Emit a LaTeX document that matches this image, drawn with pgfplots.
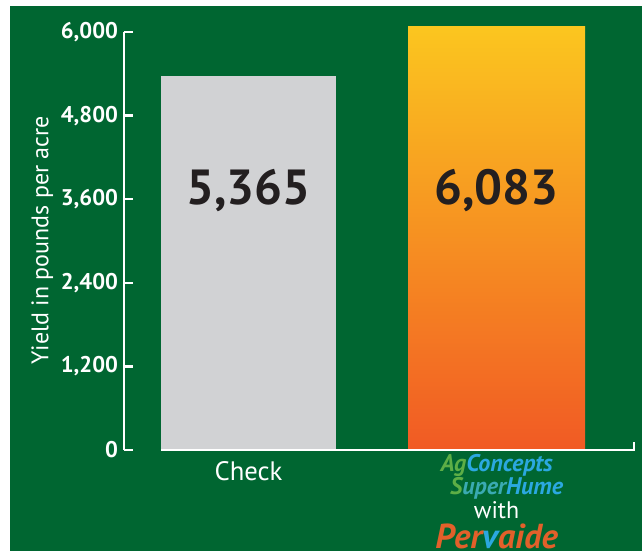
\documentclass[border=0pt]{standalone}
\usepackage{pgfplots}
\pgfplotsset{compat=1.18}
\usepackage{fontspec}
\setmainfont{PT Sans}
\definecolor{bggreen}{HTML}{006631}
\definecolor{bargray}{HTML}{D1D2D4}
\definecolor{bartop}{HTML}{FBC61F}
\definecolor{barbot}{HTML}{F15A24}
\definecolor{numblack}{HTML}{231F20}
\definecolor{aggreen}{HTML}{5DAE46}
\definecolor{agblue}{HTML}{2BA8E0}
\definecolor{pervorange}{HTML}{E2602A}
\newcommand{\logo}{%
\begin{tabular}{@{}c@{}}
{\fontsize{18}{18}\selectfont\bfseries\itshape\color{aggreen}Ag\color{agblue}Concepts}\hspace{15pt}\\[-3pt]
\hspace{15pt}{\fontsize{18}{18}\selectfont\bfseries\itshape\color{aggreen}S\color{agblue!70!aggreen}uper\color{agblue}Hume}\\[-2pt]
{\fontsize{18}{18}\selectfont\color{white}with}\\[-2pt]
{\fontsize{26}{26}\selectfont\bfseries\itshape\color{pervorange}Per\color{agblue}v\color{pervorange}aide}
\end{tabular}}
\begin{document}
\begin{tikzpicture}
% background (px -> 0.75pt)
\fill[white] (-93pt,-75.75pt) rectangle (388.5pt,337.5pt);
\fill[bggreen] (-85.5pt,-75.75pt) rectangle (388.5pt,333pt);
\begin{axis}[
  scale only axis,
  width=382.5pt, height=313.5pt,
  xmin=-0.502, xmax=1.554,
  ymin=0, ymax=6000,
  clip=false,
  axis line style={draw=none},
  ytick={0,1200,2400,3600,4800,6000},
  ytick pos=left,
  tick align=inside,
  major tick length=6.75pt,
  ytick style={white, line width=1.9pt},
  xtick={0,1},
  xtick style={draw=none},
  xticklabels={{\rule{0pt}{21pt}Check}, {\logo}},
  xticklabel style={font=\fontsize{20}{20}\selectfont, text=white, anchor=north, inner sep=0pt, yshift=-2pt},
  yticklabel={\fontsize{17}{17}\selectfont\bfseries\pgfmathprintnumber[assume math mode=true,1000 sep={,}]{\tick}},
  yticklabel style={text=white, xshift=-1pt},
  scaled y ticks=false,
  ylabel={Yield in pounds per acre},
  ylabel style={at={(axis description cs:-0.160,0.502)}, anchor=center, rotate=0, font=\fontsize{18}{18}\selectfont, text=white},
]
\addplot[ybar, bar width=0.706, bar shift=0pt, draw=none, fill=bargray] coordinates {(0,5365)};
\addplot[ybar, bar width=0.714, bar shift=0pt, draw=none, top color=bartop, bottom color=barbot] coordinates {(1,6083)};
\draw[white, line width=1.9pt] (axis cs:-0.502,6000) -- (axis cs:-0.502,0);
\draw[white, line width=1.9pt] (axis cs:-0.353,0) -- (axis cs:1.554,0) -- ++(0pt,6pt);
\node[font=\fontsize{37}{37}\selectfont\bfseries, text=numblack] at (axis cs:0,3730) {5,365};
\node[font=\fontsize{37}{37}\selectfont\bfseries, text=numblack] at (axis cs:1,3730) {6,083};
\end{axis}
\end{tikzpicture}
\end{document}
